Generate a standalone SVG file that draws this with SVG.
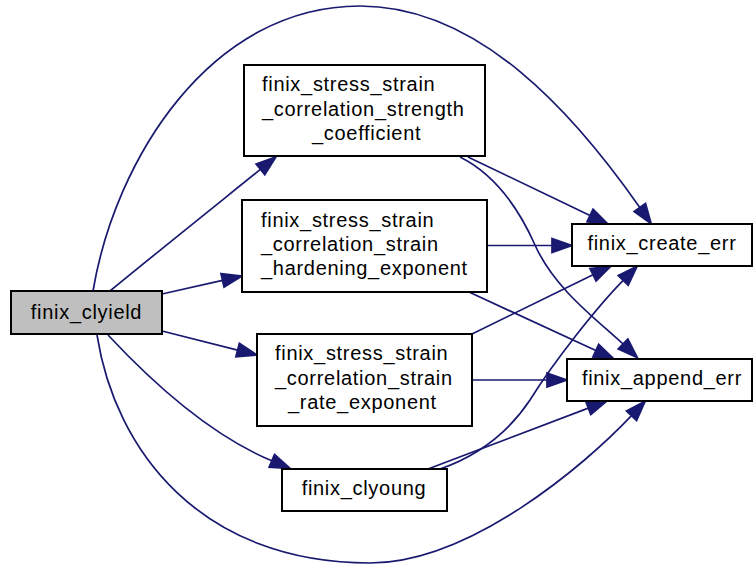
<svg xmlns="http://www.w3.org/2000/svg" width="753" height="564" viewBox="0 0 753 564">
<style>
  .node rect { fill: #ffffff; stroke: #000000; stroke-width: 2; }
  .node.hl rect { fill: #bfbfbf; }
  .node text { font-family: "Liberation Sans", Arial, Helvetica, sans-serif; font-size: 20px; fill: #000000; letter-spacing: 0.7px; }
  .edges path { fill: none; stroke: #191970; stroke-width: 1.7; marker-end: url(#arrow); }
</style>
<defs>
  <marker id="arrow" markerUnits="userSpaceOnUse" markerWidth="24" markerHeight="18" viewBox="-2 -9 24 18" refX="0" refY="0" orient="auto" overflow="visible">
    <path d="M0,-7 L20,0 L0,7 Z" fill="#191970" stroke="#191970" stroke-width="1.7"/>
  </marker>
</defs>
<rect width="753" height="564" fill="#ffffff"/>
<g id="edges" class="edges">
  <path d="M110,291 C150,258 210,210 260.4,169.4"/>
  <path d="M162,294 L222.5,280.4"/>
  <path d="M162,331 L237.6,350.1"/>
  <path d="M108,335 C150,380 210,435 271.8,460.8"/>
  <path d="M93,291 C115,160 210,6 360,6 C480,6 575,115 639.8,207.4"/>
  <path d="M97,335 C115,450 200,563 370,563 C470,563 585,465 631.5,415.7"/>
  <path d="M468,157 L590,215.4"/>
  <path d="M460,157 C490,172 515,200 535,245 C555,290 600,322 623,344"/>
  <path d="M487,245.5 L552,245.5"/>
  <path d="M469,292 L595.8,350.6"/>
  <path d="M472,334 L593,274.8"/>
  <path d="M472,380 L547,380"/>
  <path d="M440,469 C480,455 510,430 530,400 C555,360 598,306 623.2,280.4"/>
  <path d="M428,469 L588.3,408.1"/>
</g>
<g id="finix_clyield" class="node hl">
  <rect x="11" y="291" width="151" height="43"/>
  <text x="86.5" y="319" text-anchor="middle">finix_clyield</text>
</g>
<g id="finix_stress_strain_correlation_strength_coefficient" class="node">
  <rect x="244" y="65" width="241" height="91"/>
  <text x="262" y="91">finix_stress_strain</text>
  <text x="262" y="116">_correlation_strength</text>
  <text x="312" y="140">_coefficient</text>
</g>
<g id="finix_stress_strain_correlation_strain_hardening_exponent" class="node">
  <rect x="242" y="200" width="245" height="92"/>
  <text x="261" y="227">finix_stress_strain</text>
  <text x="261" y="251">_correlation_strain</text>
  <text x="261" y="275">_hardening_exponent</text>
</g>
<g id="finix_stress_strain_correlation_strain_rate_exponent" class="node">
  <rect x="257" y="334" width="215" height="92"/>
  <text x="275" y="360">finix_stress_strain</text>
  <text x="275" y="385">_correlation_strain</text>
  <text x="288" y="409">_rate_exponent</text>
</g>
<g id="finix_clyoung" class="node">
  <rect x="282" y="469" width="165" height="42"/>
  <text x="364" y="495" text-anchor="middle">finix_clyoung</text>
</g>
<g id="finix_create_err" class="node">
  <rect x="572" y="224" width="180" height="42"/>
  <text x="662" y="250" text-anchor="middle">finix_create_err</text>
</g>
<g id="finix_append_err" class="node">
  <rect x="567" y="359" width="185" height="42"/>
  <text x="662" y="385" text-anchor="middle">finix_append_err</text>
</g>
</svg>
